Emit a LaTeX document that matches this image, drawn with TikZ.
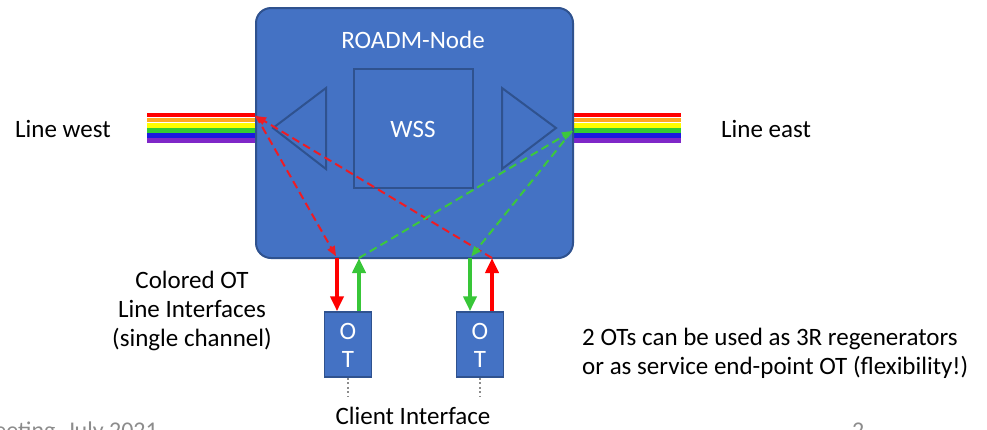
\documentclass[tikz,border=0pt]{standalone}
\usepackage{fontspec}
\setmainfont{Carlito}
\usetikzlibrary{arrows.meta}
\definecolor{nodeblue}{HTML}{4472C4}
\definecolor{nodeedge}{HTML}{2F528F}
\definecolor{rbred}{HTML}{FF0000}
\definecolor{rborange}{HTML}{FFA820}
\definecolor{rbyellow}{HTML}{FFFF00}
\definecolor{rbgreen}{HTML}{33CC33}
\definecolor{rbblue}{HTML}{1A1AE0}
\definecolor{rbpurple}{HTML}{7F27C8}
\definecolor{sigred}{HTML}{FF0000}
\definecolor{siggreen}{HTML}{38C638}
\definecolor{dred}{HTML}{EE1C24}
\definecolor{dgreen}{HTML}{3CC83C}
\definecolor{footgrey}{HTML}{8C8C8C}
\begin{document}
\begin{tikzpicture}[x=1pt,y=-1pt,
  bigfont/.style={font=\fontsize{25}{29}\selectfont},
  txt/.style={bigfont, inner sep=0pt, text=black},
  wtxt/.style={bigfont, inner sep=0pt, text=white},
  roadmbox/.style={draw=nodeedge, fill=nodeblue, line width=2pt, rounded corners=15pt,
    minimum width=317pt, minimum height=250pt},
  wssbox/.style={draw=nodeedge, line width=2pt, minimum size=119pt, inner sep=0pt},
  otbox/.style={draw=nodeedge, fill=nodeblue, line width=1.5pt, minimum width=47pt,
    minimum height=65pt, inner sep=0pt},
  tri/.style={draw=nodeedge, line width=2pt},
  stripe/.style={line width=4.6pt},
  solidsig/.style={line width=4pt, -{Triangle[length=15pt,width=13pt]}},
  dashsig/.style={line width=2pt, dash pattern=on 8pt off 4.5pt, -{Triangle[length=10pt,width=8pt]}},
  dotline/.style={draw=footgrey, line width=2pt, dash pattern=on 2pt off 2.5pt},
  foot/.style={font=\fontsize{24}{28}\selectfont, text=footgrey, inner sep=0pt}
]
\useasboundingbox (0,0) rectangle (987,429);
\clip (0,0) rectangle (987,429);

% rainbow fibres
\foreach \c/\y in {rbred/115, rborange/120, rbyellow/125.3, rbgreen/130.6, rbblue/135.6, rbpurple/140.6}{
  \draw[stripe, \c] (147,\y) -- (258,\y);
  \draw[stripe, \c] (571,\y) -- (681,\y);
}

% ROADM node
\node[roadmbox] (roadm) at (414.5,133) {};
\node[wtxt, anchor=base] (title) at (413,48) {ROADM-Node};
\node[wssbox] (wss) at (413.5,128) {};
\node[wtxt, anchor=base] (wsslabel) at (413,137) {WSS};
\draw[tri] (273,128) -- (326,88) -- (326,169) -- cycle;
\draw[tri] (502,88) -- (556,128) -- (502,169) -- cycle;

% OTs
\node[otbox] (otL) at (348,344.5) {};
\node[otbox] (otR) at (480,344.5) {};
\node[wtxt, anchor=base] (otLo) at (348,339) {O};
\node[wtxt, anchor=base] (otLt) at (348,367) {T};
\node[wtxt, anchor=base] (otRo) at (480,339) {O};
\node[wtxt, anchor=base] (otRt) at (480,367) {T};

% connection points
\coordinate (wp) at (256,116);
\coordinate (ep) at (572,131);
\coordinate (a1) at (337,258);
\coordinate (a2) at (359,258);
\coordinate (a3) at (470,258);
\coordinate (a4) at (492,258);
\coordinate (cL) at (348,396);
\coordinate (cR) at (480,396);

% solid signals
\draw[solidsig, sigred] (a1) -- (a1 |- otL.north);
\draw[solidsig, siggreen] (a2 |- otL.north) -- (a2);
\draw[solidsig, siggreen] (a3) -- (a3 |- otR.north);
\draw[solidsig, sigred] (a4 |- otR.north) -- (a4);

% dashed internal paths
\draw[dashsig, dred, shorten >=2pt] (wp) -- (a1);
\draw[dashsig, dred] (a4) -- (wp);
\draw[dashsig, dgreen] (a2) -- (ep);
\draw[dashsig, dgreen, shorten >=2pt] (ep) -- (a3);

% client dotted lines
\draw[dotline] (otL.south) -- (cL);
\draw[dotline] (otR.south) -- (cR);

% labels
\node[txt, anchor=base west] (lw) at (15,137) {Line west};
\node[txt, anchor=base west] (le) at (721,137) {Line east};
\node[txt, anchor=base] (col1) at (192,288) {Colored OT};
\node[txt, anchor=base] (col2) at (192,317) {Line Interfaces};
\node[txt, anchor=base] (col3) at (192,346) {(single channel)};
\node[txt, anchor=base west] (note1) at (582,345) {2 OTs can be used as 3R regenerators};
\node[txt, anchor=base west] (note2) at (582,374) {or as service end-point OT (flexibility!)};
\node[txt, anchor=base] (client) at (413,424) {Client Interface};

% footer (cut off at the bottom edge)
\node[foot, anchor=base east] (footer) at (158,438) {Meeting, July 2021};
\node[foot, anchor=base west] (pagenum) at (852,438) {2};
\end{tikzpicture}
\end{document}
